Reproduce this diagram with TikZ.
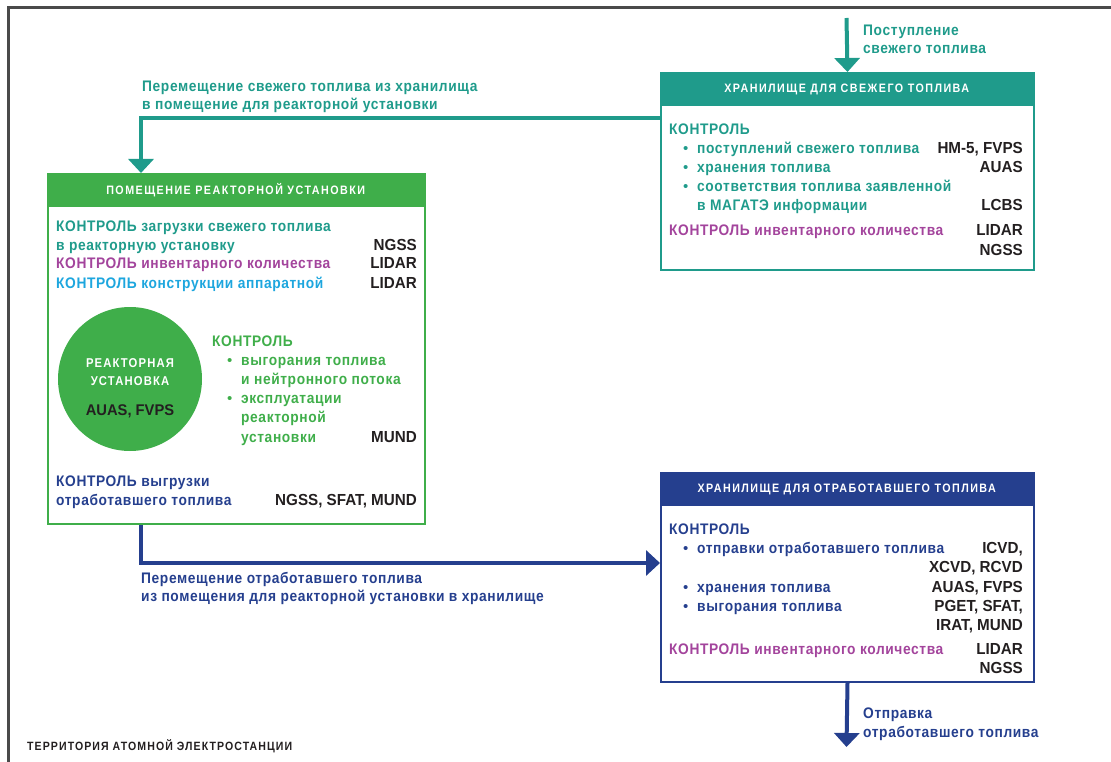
\documentclass[tikz,border=0pt]{standalone}
\usepackage{fontspec}
\setmainfont{Liberation Sans}
\newfontfamily\tf{Liberation Sans}[FakeStretch=0.9,LetterSpace=4]
\newfontfamily\cf{Liberation Sans}[FakeStretch=0.95]
\newfontfamily\hf{Liberation Sans}[FakeStretch=0.88,LetterSpace=12]
\newfontfamily\kf{Liberation Sans}[FakeStretch=0.88,LetterSpace=9]
\usetikzlibrary{arrows.meta,calc}
\definecolor{teal1}{HTML}{1F9B8B}
\definecolor{grn}{HTML}{3FAE4A}
\definecolor{navy}{HTML}{253F8E}
\definecolor{purp}{HTML}{A3449C}
\definecolor{cyan1}{HTML}{1DA6DE}
\definecolor{ink}{HTML}{231F20}
\definecolor{framec}{HTML}{4A4A4A}
\begin{document}
\begin{tikzpicture}[x=1pt,y=-1pt,
  txt/.style={anchor=base west,inner sep=0pt,font=\tf\bfseries\fontsize{15.3}{18}\selectfont},
  code/.style={anchor=base east,inner sep=0pt,text=ink,font=\cf\bfseries\fontsize{16}{18}\selectfont},
  hdr/.style={inner sep=0pt,text=white,font=\hf\bfseries\fontsize{12.2}{14}\selectfont},
  box/.style={draw,line width=2pt,anchor=north west,inner sep=0pt,minimum width=373pt},
  band/.style={anchor=north west,inner sep=0pt,minimum width=373pt,minimum height=34pt},
  conn/.style={line width=4pt,-{Triangle[width=25pt,length=14pt]}},
  bul/.style={anchor=base west,inner sep=0pt,font=\fontsize{15}{18}\selectfont}]
\useasboundingbox (0,0) rectangle (1111,762);
\draw[framec,line width=3pt] (8,762) -- (8,8) -- (1111,8);

% ---------- fresh fuel storage
\node[box,draw=teal1,minimum height=197pt] (fresh) at (660,72) {};
\node[band,fill=teal1] (freshhd) at (fresh.north west) {};
\node[hdr] (freshhdt) at (freshhd.center) {ХРАНИЛИЩЕ ДЛЯ СВЕЖЕГО ТОПЛИВА};
\node[txt,text=teal1] (f1) at (669,135) {КОНТРОЛЬ};
\node[bul,text=teal1] (fb1) at (683,154) {•};
\node[txt,text=teal1] (f2) at (697,154) {поступлений свежего топлива};
\node[code] (fc2) at (1023,154) {HM-5, FVPS};
\node[bul,text=teal1] (fb2) at (683,173) {•};
\node[txt,text=teal1] (f3) at (697,173) {хранения топлива};
\node[code] (fc3) at (1023,173) {AUAS};
\node[bul,text=teal1] (fb3) at (683,192) {•};
\node[txt,text=teal1] (f4) at (697,192) {соответствия топлива заявленной};
\node[txt,text=teal1] (f5) at (697,211) {в МАГАТЭ информации};
\node[code] (fc5) at (1023,211) {LCBS};
\node[txt,text=purp] (f6) at (669,236) {КОНТРОЛЬ инвентарного количества};
\node[code] (fc6) at (1023,236) {LIDAR};
\node[code] (fc7) at (1023,255) {NGSS};

% ---------- reactor room
\node[box,draw=grn,minimum width=377pt,minimum height=350pt] (reactor) at (47,173) {};
\node[band,fill=grn,minimum width=377pt] (reactorhd) at (reactor.north west) {};
\node[hdr] (reactorhdt) at (reactorhd.center) {ПОМЕЩЕНИЕ РЕАКТОРНОЙ УСТАНОВКИ};
\node[txt,text=teal1] (r1) at (56,232) {КОНТРОЛЬ загрузки свежего топлива};
\node[txt,text=teal1] (r2) at (56,251) {в реакторную установку};
\node[code] (rc2) at (417,251) {NGSS};
\node[txt,text=purp] (r3) at (56,269) {КОНТРОЛЬ инвентарного количества};
\node[code] (rc3) at (417,269) {LIDAR};
\node[txt,text=cyan1] (r4) at (56,288) {КОНТРОЛЬ конструкции аппаратной};
\node[code] (rc4) at (417,288) {LIDAR};
\node[circle,fill=grn,minimum size=144pt,inner sep=0pt] (core) at (130,379) {};
\node[hdr,anchor=base,font=\kf\bfseries\fontsize{12.8}{14}\selectfont] (core1) at (130,367) {РЕАКТОРНАЯ};
\node[hdr,anchor=base,font=\kf\bfseries\fontsize{12.8}{14}\selectfont] (core2) at (130,385) {УСТАНОВКА};
\node[code,anchor=base,font=\cf\bfseries\fontsize{15.5}{18}\selectfont] (core3) at (130,415) {AUAS, FVPS};
\node[txt,text=grn] (g1) at (212,346) {КОНТРОЛЬ};
\node[bul,text=grn] (gb1) at (227,365) {•};
\node[txt,text=grn] (g2) at (241,365) {выгорания топлива};
\node[txt,text=grn] (g3) at (241,384) {и нейтронного потока};
\node[bul,text=grn] (gb2) at (227,403) {•};
\node[txt,text=grn] (g4) at (241,403) {эксплуатации};
\node[txt,text=grn] (g5) at (241,422) {реакторной};
\node[txt,text=grn] (g6) at (241,442) {установки};
\node[code] (gc6) at (417,442) {MUND};
\node[txt,text=navy] (n1) at (56,486) {КОНТРОЛЬ выгрузки};
\node[txt,text=navy] (n2) at (56,505) {отработавшего топлива};
\node[code] (nc2) at (417,505) {NGSS, SFAT, MUND};

% ---------- spent fuel storage
\node[box,draw=navy,minimum height=209pt] (spent) at (660,472) {};
\node[band,fill=navy] (spenthd) at (spent.north west) {};
\node[hdr] (spenthdt) at (spenthd.center) {ХРАНИЛИЩЕ ДЛЯ ОТРАБОТАВШЕГО ТОПЛИВА};
\node[txt,text=navy] (s1) at (669,534) {КОНТРОЛЬ};
\node[bul,text=navy] (sb1) at (683,553) {•};
\node[txt,text=navy] (s2) at (697,553) {отправки отработавшего топлива};
\node[code] (sc2) at (1023,553) {ICVD,};
\node[code] (sc3) at (1023,572) {XCVD, RCVD};
\node[bul,text=navy] (sb2) at (683,592) {•};
\node[txt,text=navy] (s4) at (697,592) {хранения топлива};
\node[code] (sc4) at (1023,592) {AUAS, FVPS};
\node[bul,text=navy] (sb3) at (683,611) {•};
\node[txt,text=navy] (s5) at (697,611) {выгорания топлива};
\node[code] (sc5) at (1023,611) {PGET, SFAT,};
\node[code] (sc6) at (1023,630) {IRAT, MUND};
\node[txt,text=purp] (s7) at (669,654) {КОНТРОЛЬ инвентарного количества};
\node[code] (sc7) at (1023,654) {LIDAR};
\node[code] (sc8) at (1023,673) {NGSS};

% ---------- connectors
\coordinate (src) at (846.5,18);
\coordinate (dst) at (846.5,747);
\draw[conn,teal1] (src) -- (fresh.north);
\draw[conn,teal1] ($(fresh.north west)+(0,46)$) -| ($(reactor.north west)+(94,0)$);
\draw[conn,navy] ($(reactor.south west)+(94,0)$) |- ($(spent.north west)+(0,91)$);
\draw[conn,navy] (spent.south) -- (dst);

% ---------- labels
\node[txt,text=teal1] (l1) at (863,36) {Поступление};
\node[txt,text=teal1] (l2) at (863,54) {свежего топлива};
\node[txt,text=teal1] (l3) at (142,92) {Перемещение свежего топлива из хранилища};
\node[txt,text=teal1] (l4) at (142,110) {в помещение для реакторной установки};
\node[txt,text=navy] (l5) at (141,583) {Перемещение отработавшего топлива};
\node[txt,text=navy] (l6) at (141,601) {из помещения для реакторной установки в хранилище};
\node[txt,text=navy] (l7) at (863,718) {Отправка};
\node[txt,text=navy] (l8) at (863,737) {отработавшего топлива};
\node[anchor=base west,inner sep=0pt,text=ink,font=\kf\bfseries\fontsize{12}{14}\selectfont] (terr) at (27,750) {ТЕРРИТОРИЯ АТОМНОЙ ЭЛЕКТРОСТАНЦИИ};
\end{tikzpicture}
\end{document}
